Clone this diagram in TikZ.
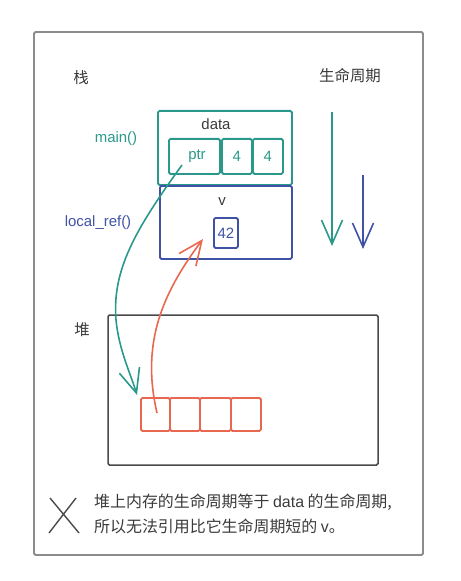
\documentclass[tikz,border=0pt]{standalone}
\usepackage{fontspec}
\setmainfont{Liberation Sans}
\newfontfamily\cjk{Noto Sans CJK SC}
\usetikzlibrary{arrows.meta}
\definecolor{teal2}{HTML}{2A998B}
\definecolor{blue2}{HTML}{3F52A6}
\definecolor{red2}{HTML}{E8674F}
\definecolor{frame}{HTML}{8C8C8C}
\definecolor{heap}{HTML}{4A4A4A}
\definecolor{txt}{HTML}{3A3A3A}
\tikzset{
  lbl/.style={font=\fontsize{15}{17}\selectfont, text=txt, inner sep=0pt},
  cjklbl/.style={font=\cjk\fontsize{15.5}{17}\selectfont, text=txt, inner sep=0pt},
  cell/.style={draw=#1, line width=1.8bp, rounded corners=1.5bp, anchor=north west, inner sep=0pt},
  barb/.style={-{Straight Barb[length=24bp,width=21bp,line width=1.6bp]}, line width=1.6bp},
}
\begin{document}
\begin{tikzpicture}[x=1bp,y=-1bp]
\useasboundingbox (0,0) rectangle (461,581);
% outer frame
\draw[frame, line width=1.8bp, rounded corners=1.5bp] (34,32) rectangle (423,555);
% labels
\node[cjklbl] (stack) at (81,78) {栈};
\node[cjklbl] (life) at (350,76) {生命周期};
\node[cjklbl] (heaplbl) at (82,330) {堆};
\node[lbl, text=teal2] (mainlbl) at (116,139) {main()};
\node[lbl, text=blue2] (reflbl) at (98,223) {local\_ref()};
% stack frames
\node[cell=teal2, minimum width=134bp, minimum height=74bp] (mainbox) at (157,110) {};
\node[lbl] (data) at (216,124) {data};
\node[cell=teal2, minimum width=51bp, minimum height=35bp] (ptr) at (168,138) {};
\node[lbl, text=teal2] at (197,156) {ptr};
\node[cell=teal2, minimum width=30bp, minimum height=35bp] (c1) at (221,138) {};
\node[lbl, text=teal2] at (c1.center) {4};
\node[cell=teal2, minimum width=30bp, minimum height=35bp] (c2) at (252,138) {};
\node[lbl, text=teal2] at (c2.center) {4};
\node[cell=blue2, minimum width=132bp, minimum height=73bp] (refbox) at (159,185) {};
\node[lbl] (v) at (222,202) {v};
\node[cell=blue2, minimum width=24bp, minimum height=30bp] (val) at (213,217) {};
\node[lbl, text=blue2] at (val.center) {42};
% lifetime arrows
\coordinate (l1s) at (332,112);
\coordinate (l1e) at (332,246);
\coordinate (l2s) at (363,175);
\coordinate (l2e) at (363,249);
\draw[barb, teal2] (l1s) -- (l1e);
\draw[barb, blue2] (l2s) -- (l2e);
% heap
\draw[heap, line width=1.5bp, rounded corners=1.5bp] (108,315) rectangle (378,465);
\node[cell=red2, minimum width=29bp, minimum height=33bp] (h1) at (140,397) {};
\node[cell=red2, minimum width=30bp, minimum height=33bp] (h2) at (169,397) {};
\node[cell=red2, minimum width=31bp, minimum height=33bp] (h3) at (199,397) {};
\node[cell=red2, minimum width=30bp, minimum height=33bp] (h4) at (230,397) {};
% pointers
\coordinate (ptrtail) at (182,165);
\coordinate (ptrhead) at (137,395);
\draw[barb, teal2] (ptrtail) .. controls (135,230) and (112,270) .. (116,320)
   .. controls (119,350) and (130,372) .. (ptrhead);
\coordinate (reftail) at (157,413);
\coordinate (refhead) at (203,239);
\draw[barb, red2] (reftail) .. controls (140,340) and (165,290) .. (refhead);
% cross mark
\draw[heap, line width=1.4bp] (50,498) -- (79,533) (76,498) -- (49,533);
\node[anchor=north west, align=left, inner sep=0pt, text=txt,
      font=\cjk\fontsize{16}{25}\selectfont] (note) at (94,494)
  {堆上内存的生命周期等于 {\rmfamily data} 的生命周期,\\所以无法引用比它生命周期短的 {\rmfamily v}。};
\end{tikzpicture}
\end{document}
